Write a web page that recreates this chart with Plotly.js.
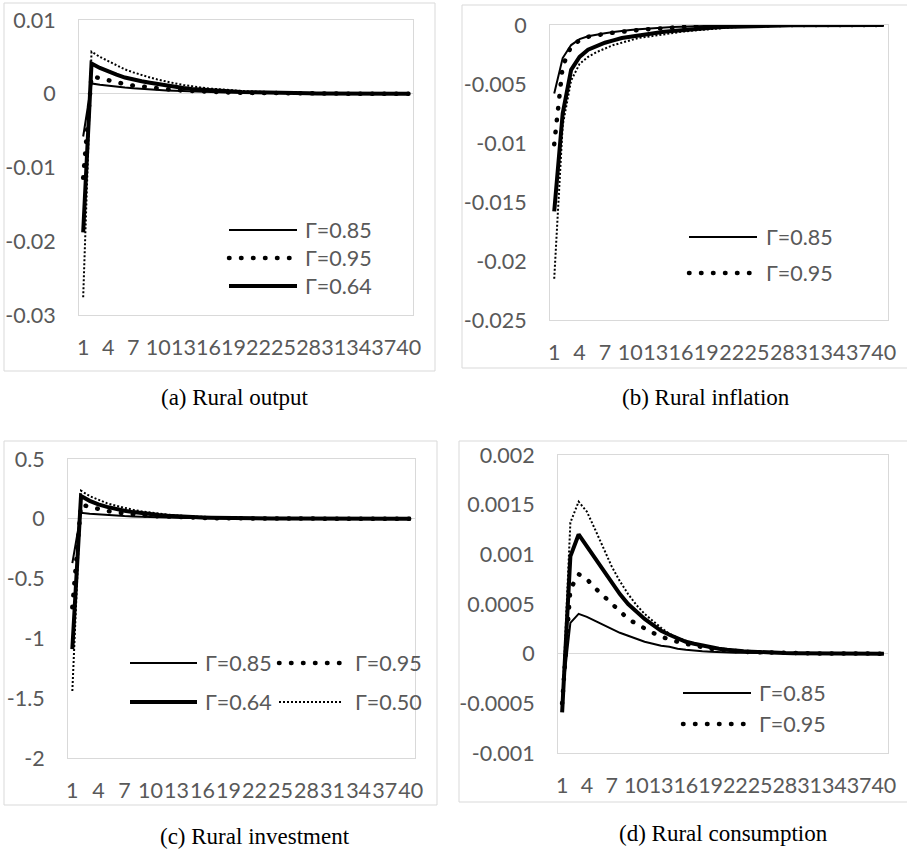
<!DOCTYPE html>
<html>
<head>
<meta charset="utf-8">
<script src="https://cdn.plot.ly/plotly-3.0.1.min.js"></script>
<style>
html,body{margin:0;padding:0;background:#fff;}
#chart{width:907px;height:853px;}
</style>
</head>
<body>
<div id="chart"></div>
<script>
// ---------- DATA ----------
const periods = [1,2,3,4,5,6,7,8,9,10,11,12,13,14,15,16,17,18,19,20,21,22,23,24,25,26,27,28,29,30,31,32,33,34,35,36,37,38,39,40];
const xTickVals = [1,4,7,10,13,16,19,22,25,28,31,34,37,40];
const seriesNames = ['Γ=0.85','Γ=0.95','Γ=0.64','Γ=0.50'];
const captions = ['(a) Rural output','(b) Rural inflation','(c) Rural investment','(d) Rural consumption'];

// (a) Rural output
const output85 = [-0.0058,0.0014,0.00123,0.00108,0.00095,0.00084,0.00074,0.00065,0.00057,0.0005,0.00044,0.00039,0.00034,0.0003,0.00026,0.00023,0.0002,0.00018,0.00016,0.00014,0.00012,0.0001,0.00009,0.00008,0.00007,0.00006,0.00005,0.00004,0.00004,0.00003,0.00003,0.00002,0.00002,0.00002,0.00001,0.00001,0.00001,0.00001,0.00001,0.00001];
const output95 = [-0.0114,0.0024,0.0021,0.0018,0.0015,0.0013,0.0011,0.00095,0.0008,0.0007,0.0006,0.0005,0.00043,0.00036,0.0003,0.00026,0.00022,0.00018,0.00015,0.00013,0.00011,0.00009,0.00007,0.00006,0.00005,0.00004,0.00003,0.00003,0.00002,0.00002,0.00002,0.00001,0.00001,0.00001,0.00001,0.00001,0,0,0,0];
const output64 = [-0.0188,0.0041,0.0035,0.003,0.0026,0.0022,0.0019,0.0017,0.0015,0.0013,0.0011,0.0009,0.00078,0.00066,0.00056,0.00047,0.0004,0.00034,0.00029,0.00024,0.0002,0.00017,0.00014,0.00012,0.0001,0.00008,0.00007,0.00006,0.00005,0.00004,0.00003,0.00003,0.00002,0.00002,0.00001,0.00001,0.00001,0.00001,0.00001,0];
const output50 = [-0.0276,0.0057,0.005,0.0044,0.0038,0.0033,0.0029,0.0025,0.0022,0.0019,0.0016,0.0014,0.0012,0.001,0.00085,0.00072,0.00061,0.00052,0.00044,0.00037,0.00031,0.00026,0.00022,0.00018,0.00015,0.00013,0.00011,0.00009,0.00008,0.00006,0.00005,0.00004,0.00004,0.00003,0.00003,0.00002,0.00002,0.00002,0.00001,0.00001];
const outputTickVals = [-0.03,-0.02,-0.01,0,0.01];
const outputTickText = ['-0.03','-0.02','-0.01','0','0.01'];

// (b) Rural inflation
const inflation85 = [-0.0058,-0.0028,-0.0017,-0.0012,-0.00095,-0.0008,-0.0007,-0.0006,-0.0005,-0.00043,-0.00037,-0.00031,-0.00026,-0.00021,-0.00017,-0.00014,-0.00011,-0.00009,-0.00007,-0.00005,-0.00004,-0.00003,-0.00003,-0.00002,-0.00002,-0.00001,-0.00001,-0.00001,-0.00001,-0.00001,0,0,0,0,0,0,0,0,0,0];
const inflation95 = [-0.0101,-0.0035,-0.0018,-0.0013,-0.001,-0.00085,-0.00075,-0.00065,-0.00055,-0.00048,-0.00042,-0.00036,-0.0003,-0.00025,-0.0002,-0.00016,-0.00013,-0.0001,-0.00008,-0.00006,-0.00005,-0.00004,-0.00003,-0.00002,-0.00002,-0.00001,-0.00001,-0.00001,0,0,0,0,0,0,0,0,0,0,0,0];
const inflation64 = [-0.0158,-0.0075,-0.0038,-0.0027,-0.0021,-0.0018,-0.0015,-0.0013,-0.0011,-0.001,-0.00088,-0.00077,-0.00067,-0.00058,-0.0005,-0.00043,-0.00037,-0.00031,-0.00026,-0.00022,-0.00018,-0.00015,-0.00012,-0.0001,-0.00008,-0.00006,-0.00005,-0.00004,-0.00003,-0.00002,-0.00002,-0.00001,-0.00001,-0.00001,0,0,0,0,0,0];
const inflation50 = [-0.0215,-0.0085,-0.0047,-0.0033,-0.0027,-0.0023,-0.002,-0.0017,-0.0015,-0.0013,-0.0011,-0.001,-0.00088,-0.00077,-0.00067,-0.00058,-0.0005,-0.00043,-0.00036,-0.0003,-0.00025,-0.0002,-0.00016,-0.00013,-0.0001,-0.00008,-0.00006,-0.00005,-0.00004,-0.00003,-0.00002,-0.00002,-0.00001,-0.00001,-0.00001,0,0,0,0,0];
const inflationTickVals = [-0.025,-0.02,-0.015,-0.01,-0.005,0];
const inflationTickText = ['-0.025','-0.02','-0.015','-0.01','-0.005','0'];

// (c) Rural investment
const investment85 = [-0.37,0.05,0.043,0.037,0.032,0.027,0.023,0.02,0.017,0.014,0.012,0.01,0.0085,0.007,0.006,0.005,0.0042,0.0035,0.003,0.0025,0.002,0.0017,0.0014,0.0012,0.001,0.0008,0.0007,0.0006,0.0005,0.0004,0.0003,0.0003,0.0002,0.0002,0.0002,0.0001,0.0001,0.0001,0.0001,0.0001];
const investment95 = [-0.74,0.12,0.1,0.08,0.066,0.054,0.044,0.036,0.03,0.024,0.02,0.016,0.013,0.01,0.008,0.0066,0.0053,0.0043,0.0035,0.0028,0.0022,0.0018,0.0014,0.0011,0.0009,0.0007,0.0006,0.0005,0.0004,0.0003,0.0002,0.0002,0.0001,0.0001,0.0001,0.0001,0,0,0,0];
const investment64 = [-1.09,0.19,0.15,0.12,0.1,0.082,0.068,0.056,0.046,0.038,0.031,0.025,0.02,0.016,0.013,0.011,0.009,0.007,0.006,0.005,0.004,0.003,0.0025,0.002,0.0016,0.0013,0.001,0.0008,0.0007,0.0005,0.0004,0.0003,0.0003,0.0002,0.0002,0.0001,0.0001,0.0001,0.0001,0.0001];
const investment50 = [-1.44,0.235,0.19,0.16,0.13,0.11,0.09,0.075,0.062,0.051,0.042,0.035,0.028,0.023,0.019,0.015,0.012,0.01,0.008,0.0065,0.0053,0.0043,0.0035,0.0028,0.0023,0.0018,0.0015,0.0012,0.001,0.0008,0.0006,0.0005,0.0004,0.0003,0.0003,0.0002,0.0002,0.0001,0.0001,0.0001];
const investmentTickVals = [-2,-1.5,-1,-0.5,0,0.5];
const investmentTickText = ['-2','-1.5','-1','-0.5','0','0.5'];

// (d) Rural consumption
const consumption85 = [-0.00045,0.00031,0.0004,0.00037,0.00033,0.00029,0.00025,0.00021,0.00018,0.00015,0.00012,0.0001,0.00008,0.00007,0.00005,0.00004,0.00003,0.000025,0.00002,0.000015,0.000012,0.00001,0.000008,0.000006,0.000005,0.000004,0.000003,0.000002,0.000002,0.000001,0.000001,0.000001,0.000001,0,0,0,0,0,0,0];
const consumption95 = [-0.0005,0.00065,0.0008,0.00075,0.00066,0.00058,0.0005,0.00042,0.00035,0.0003,0.00025,0.00021,0.00017,0.00014,0.00012,0.0001,0.00008,0.00006,0.00005,0.00004,0.00003,0.000025,0.00002,0.000015,0.000012,0.00001,0.000008,0.000006,0.000005,0.000004,0.000003,0.000002,0.000002,0.000001,0.000001,0.000001,0,0,0,0];
const consumption64 = [-0.00059,0.00098,0.0012,0.00108,0.00097,0.00085,0.00072,0.0006,0.0005,0.00042,0.00035,0.00029,0.00023,0.00019,0.00015,0.00012,0.0001,0.00008,0.00006,0.00005,0.00004,0.00003,0.000025,0.00002,0.000015,0.00001,0.000008,0.000006,0.000005,0.000004,0.000003,0.000002,0.000002,0.000001,0.000001,0.000001,0.000001,0,0,0];
const consumption50 = [-0.00055,0.00132,0.00153,0.00143,0.00125,0.00106,0.00088,0.00073,0.0006,0.00049,0.0004,0.00033,0.00026,0.0002,0.00016,0.00013,0.0001,0.00008,0.00006,0.00005,0.00004,0.00003,0.000025,0.00002,0.000015,0.000012,0.00001,0.000008,0.000006,0.000005,0.000004,0.000003,0.000002,0.000002,0.000001,0.000001,0.000001,0.000001,0,0];
const consumptionTickVals = [-0.001,-0.0005,0,0.0005,0.001,0.0015,0.002];
const consumptionTickText = ['-0.001','-0.0005','0','0.0005','0.001','0.0015','0.002'];

// ---------- STYLE / LAYOUT ----------
const W = 907, H = 853;
const px = x => x / W;
const py = y => 1 - y / H;
const lineStyles = [
  {width: 2, dash: 'solid'},
  {width: 4.5, dash: '0.5px,11.5px'},
  {width: 4, dash: 'solid'},
  {width: 2, dash: '2px,2px'}
];
const tickFont = {family: 'Lato, "Open Sans", sans-serif', size: 21.5, color: '#595959'};
const captionFont = {family: '"Liberation Serif", "Times New Roman", serif', size: 23, color: '#000'};
const borderColor = '#d9d9d9';

const panels = [
  {series: [output85, output95, output64, output50], yRange: [-0.03, 0.01], tv: outputTickVals, tt: outputTickText,
   plot: [79, 20, 413, 315], box: [4, 3, 435, 371], cap: [235, 397],
   legend: [{s: 0, x0: 229, x1: 297, tx: 303, y: 230}, {s: 1, x0: 229, x1: 297, tx: 303, y: 258}, {s: 2, x0: 229, x1: 297, tx: 303, y: 286}]},
  {series: [inflation85, inflation95, inflation64, inflation50], yRange: [-0.025, 0], tv: inflationTickVals, tt: inflationTickText,
   plot: [550, 25, 888, 320], box: [462, 5, 910, 368], cap: [706, 397],
   legend: [{s: 0, x0: 689, x1: 757, tx: 764, y: 237}, {s: 1, x0: 689, x1: 757, tx: 764, y: 273}]},
  {series: [investment85, investment95, investment64, investment50], yRange: [-2, 0.5], tv: investmentTickVals, tt: investmentTickText,
   plot: [68, 459, 415, 758], box: [4, 441, 437, 805], cap: [255, 836],
   legend: [{s: 0, x0: 130, x1: 197, tx: 203, y: 663}, {s: 1, x0: 279, x1: 342, tx: 353, y: 663},
            {s: 2, x0: 130, x1: 197, tx: 203, y: 702}, {s: 3, x0: 279, x1: 342, tx: 353, y: 702}]},
  {series: [consumption85, consumption95, consumption64, consumption50], yRange: [-0.001, 0.002], tv: consumptionTickVals, tt: consumptionTickText,
   plot: [558, 455, 888, 753], box: [459, 441, 910, 802], cap: [723, 833],
   legend: [{s: 0, x0: 683, x1: 751, tx: 757, y: 693}, {s: 1, x0: 683, x1: 751, tx: 757, y: 724}]}
];

const traces = [];
const layout = {
  width: W, height: H,
  margin: {l: 0, r: 0, t: 0, b: 0},
  paper_bgcolor: '#fff', plot_bgcolor: '#fff',
  showlegend: false,
  shapes: [], annotations: []
};

panels.forEach((p, i) => {
  const n = i === 0 ? '' : String(i + 1);
  const xa = 'x' + n, ya = 'y' + n;
  layout['xaxis' + n] = {
    domain: [px(p.plot[0]), px(p.plot[2])], anchor: ya,
    range: [0.5, 40.5], tickmode: 'array', tickvals: xTickVals, ticktext: xTickVals.map(String),
    tickangle: 0, ticks: '', showgrid: false, zeroline: false,
    showline: true, mirror: true, linecolor: borderColor, linewidth: 1,
    tickfont: tickFont, ticklabelstandoff: 13, fixedrange: true
  };
  layout['yaxis' + n] = {
    domain: [py(p.plot[3]), py(p.plot[1])], anchor: xa,
    range: p.yRange, tickmode: 'array', tickvals: p.tv, ticktext: p.tt,
    ticks: '', showgrid: false, zeroline: true, zerolinecolor: borderColor, zerolinewidth: 1,
    showline: true, mirror: true, linecolor: borderColor, linewidth: 1,
    tickfont: tickFont, ticklabelstandoff: 18, fixedrange: true
  };
  p.series.forEach((ys, s) => {
    traces.push({
      x: periods, y: ys, xaxis: xa, yaxis: ya, type: 'scatter', mode: 'lines',
      name: seriesNames[s], showlegend: false, hoverinfo: 'skip',
      line: {color: '#000', width: lineStyles[s].width, dash: lineStyles[s].dash}
    });
  });
  // chart-area border
  layout.shapes.push({type: 'rect', xref: 'paper', yref: 'paper',
    x0: px(p.box[0]), x1: px(p.box[2]), y0: py(p.box[3]), y1: py(p.box[1]),
    line: {color: borderColor, width: 1}, fillcolor: 'rgba(0,0,0,0)', layer: 'below'});
  // legend keys
  p.legend.forEach(e => {
    layout.shapes.push({type: 'line', xref: 'paper', yref: 'paper',
      x0: px(e.x0), x1: px(e.x1), y0: py(e.y), y1: py(e.y),
      line: {color: '#000', width: lineStyles[e.s].width, dash: lineStyles[e.s].dash}});
    layout.annotations.push({xref: 'paper', yref: 'paper', x: px(e.tx), y: py(e.y),
      xanchor: 'left', yanchor: 'middle', showarrow: false, text: seriesNames[e.s], font: tickFont});
  });
  // caption
  layout.annotations.push({xref: 'paper', yref: 'paper', x: px(p.cap[0]), y: py(p.cap[1]),
    xanchor: 'center', yanchor: 'middle', showarrow: false, text: captions[i], font: captionFont});
});

Plotly.newPlot('chart', traces, layout, {displayModeBar: false, staticPlot: true}).then(() => {
  document.querySelectorAll('#chart path').forEach(el => {
    const d = el.style.strokeDasharray || '';
    if (d.indexOf('11.5') >= 0) el.style.strokeLinecap = 'round';
  });
});
</script>
</body>
</html>
